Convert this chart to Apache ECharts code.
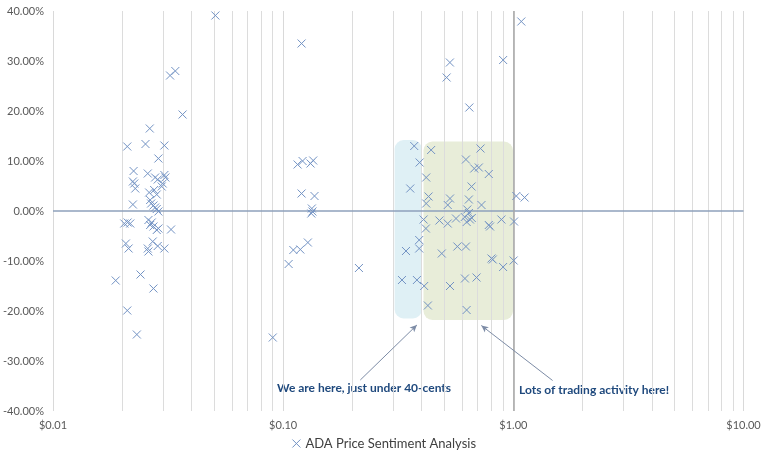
<!DOCTYPE html>
<html>
<head>
<meta charset="utf-8">
<script src="https://cdn.jsdelivr.net/npm/echarts@6/dist/echarts.min.js"></script>
<style>
html,body{margin:0;padding:0;background:#fff;}
#chart{width:768px;height:463px;}
</style>
</head>
<body>
<div id="chart"></div>
<script>
// ---- Data: [price in USD, sentiment in %] ----
const lowCluster = [
  [0.05076,39.1],[0.03225,27.1],[0.03399,28.0],[0.03655,19.3],[0.02632,16.5],
  [0.02102,12.9],[0.02522,13.4],[0.03047,13.1],[0.02870,10.5],[0.02239,8.0],
  [0.02580,7.5],[0.02777,6.7],[0.02850,6.3],[0.03047,7.2],[0.03077,6.7],
  [0.02223,5.9],[0.02254,5.5],[0.02277,4.5],[0.02996,5.5],[0.02966,4.9],
  [0.02616,3.7],[0.02750,4.2],[0.02822,3.3],[0.02223,1.3],[0.02642,2.2],
  [0.02669,1.5],[0.02731,1.1],[0.02777,0.7],[0.02870,-0.1],[0.02822,0.4],
  [0.02109,-2.3],[0.02166,-2.5],[0.02040,-2.5],[0.02598,-1.8],[0.02685,-2.3],
  [0.02642,-2.8],[0.02731,-3.1],[0.02822,-3.8],[0.02870,-3.5],[0.03257,-3.7],
  [0.02073,-6.5],[0.02130,-7.5],[0.02580,-7.5],[0.02598,-8.1],[0.02712,-6.1],
  [0.02850,-7.0],[0.03047,-7.5],[0.02400,-12.7],[0.01872,-13.9],[0.02731,-15.5],
  [0.02102,-19.9],[0.02313,-24.7]
];
const midCluster = [
  [0.1202,33.5],[0.1155,9.3],[0.1214,10.0],[0.1315,9.5],[0.1350,10.1],
  [0.1202,3.5],[0.1368,3.0],[0.1332,0.5],[0.1340,-0.1],[0.1325,-0.5],
  [0.1280,-6.3],[0.1107,-7.8],[0.1187,-7.7],[0.1056,-10.6],[0.2134,-11.4],
  [0.0901,-25.3]
];
const highCluster = [
  [0.3282,-13.8],[0.3416,-8.0],[0.3565,4.5],[0.3710,13.0],[0.3811,-13.8],
  [0.3899,-5.8],[0.3899,-7.5],[0.3915,9.7],[0.4074,-1.7],[0.4098,-15.0],
  [0.4169,-3.5],[0.4182,6.7],[0.4182,1.5],[0.4253,-18.9],[0.4282,2.9],
  [0.4394,12.2],[0.4775,-1.9],[0.4887,-8.5],[0.5187,1.2],[0.5187,-2.5],
  [0.5307,2.5],[0.5307,-15.0],[0.5635,-1.5],[0.5713,-7.1],[0.6161,-13.5],
  [0.6223,-7.1],[0.6223,10.3],[0.6266,-19.8],[0.6150,-1.2],[0.6270,-2.2],
  [0.6480,-1.7],[0.6600,-1.4],[0.6310,0.3],[0.6410,2.3],[0.6410,-0.4],
  [0.6585,4.9],[0.6763,8.5],[0.6920,-13.3],[0.7080,8.7],[0.7202,12.5],
  [0.7273,1.2],[0.7822,7.4],[0.7822,-2.8],[0.7920,-3.1],[0.8035,-9.5],
  [0.8140,-9.7],[0.8876,-1.7],[0.9027,-11.2],[1.003,-9.9],[1.007,-2.1],
  [1.0303,3.0],[1.119,2.7],[1.083,37.9],[0.530,29.7],[0.513,26.7],
  [0.903,30.2],[0.644,20.7]
];
const seriesName = 'ADA Price Sentiment Analysis';
// highlighted zones: [xFrom, xTo, yFrom, yTo]
const zones = [
  [0.305, 0.4005, -21.5, 14.2],
  [0.407, 0.997, -21.8, 13.9]
];
// annotation arrows: [[tailX, tailY], [headX, headY]]
const arrows = [
  [[0.2163, -33.8], [0.381, -22.8]],
  [[1.481, -33.9], [0.726, -22.9]]
];
const annotations = ['We are here, just under 40-cents', 'Lots of trading activity here!'];
const xMin = 0.01, xMax = 10;
const yMin = -40, yMax = 40, yStep = 10;
// minor log gridlines (2..9 within each decade)
const decades = [0.01, 0.1, 1];
const minorMultipliers = [2,3,4,5,6,7,8,9];

// ---- Build ----
const points = lowCluster.concat(midCluster, highCluster);
const minorGrid = [];
decades.forEach(d => minorMultipliers.forEach(m => minorGrid.push(+(m * d).toPrecision(3))));
const zoneFills = ['rgba(183,221,232,0.45)', 'rgba(214,222,186,0.55)'];

const chart = echarts.init(document.getElementById('chart'), null, {renderer: 'canvas'});
const fontFam = 'Lato, "Open Sans", sans-serif';
const xMark = 'path://M0,0L10,10M10,0L0,10';
const markerColor = '#7393c4';

chart.setOption({
  animation: false,
  backgroundColor: '#fff',
  grid: {left: 49, right: 24.5, top: 11, bottom: 52, containLabel: false},
  xAxis: {
    type: 'log', logBase: 10, min: xMin, max: xMax,
    axisLine: {show: false}, axisTick: {show: false},
    axisLabel: {color: '#595959', fontSize: 11, fontFamily: fontFam, margin: 9,
      formatter: v => '$' + Number(v).toFixed(2)},
    splitLine: {show: true, lineStyle: {color: '#d9d9d9', width: 1}}
  },
  yAxis: {
    type: 'value', min: yMin, max: yMax, interval: yStep,
    axisLine: {show: false}, axisTick: {show: false},
    axisLabel: {color: '#595959', fontSize: 11, fontFamily: fontFam, margin: 9,
      formatter: v => v.toFixed(2) + '%'},
    splitLine: {show: false}
  },
  legend: {
    bottom: 8, left: 'center',
    data: [{name: seriesName, icon: xMark,
      itemStyle: {color: 'rgba(0,0,0,0)', borderColor: markerColor, borderWidth: 1}}],
    itemWidth: 8, itemHeight: 8, itemGap: 5,
    textStyle: {color: '#404040', fontSize: 13, fontFamily: fontFam}
  },
  series: [
    {
      type: 'custom', name: 'zones', silent: true, z: 1,
      encode: {x: [0, 1], y: [2, 3]},
      data: zones,
      renderItem: function (params, api) {
        const p0 = api.coord([api.value(0), api.value(3)]);
        const p1 = api.coord([api.value(1), api.value(2)]);
        return {type: 'rect',
          shape: {x: p0[0], y: p0[1], width: p1[0] - p0[0], height: p1[1] - p0[1], r: 9},
          style: {fill: zoneFills[params.dataIndex]}};
      },
      markLine: {
        silent: true, symbol: 'none', animation: false,
        label: {show: false},
        lineStyle: {color: '#dcdcdc', width: 1, type: 'solid'},
        data: minorGrid.map(v => ({xAxis: v}))
      }
    },
    {
      type: 'scatter', name: seriesName, z: 5,
      symbol: xMark, symbolSize: 8,
      itemStyle: {color: 'rgba(0,0,0,0)', borderColor: markerColor, borderWidth: 1, opacity: 1},
      data: points,
      markLine: {
        silent: true, animation: false, label: {show: false},
        symbol: ['none', 'arrow'], symbolSize: [6, 8],
        lineStyle: {type: 'solid'},
        data: [
          [{xAxis: xMin, yAxis: 0, symbol: 'none', lineStyle: {color: '#8ea1bb', width: 1.5, type: 'solid'}},
           {xAxis: xMax, yAxis: 0, symbol: 'none'}],
          [{xAxis: 1, yAxis: yMin, symbol: 'none', lineStyle: {color: '#a6a6a6', width: 1.5, type: 'solid'}},
           {xAxis: 1, yAxis: yMax, symbol: 'none'}]
        ].concat(arrows.map(a => [
          {coord: a[0], symbol: 'none', lineStyle: {color: '#7d8ca6', width: 1, type: 'solid'}},
          {coord: a[1], symbol: 'arrow', symbolSize: [5, 7]}
        ]))
      }
    }
  ],
  graphic: [
    {type: 'text', left: 277, top: 382,
      style: {text: annotations[0], fill: '#1f497d', font: 'bold 12px ' + fontFam}},
    {type: 'text', left: 519, top: 384,
      style: {text: annotations[1], fill: '#1f497d', font: 'bold 12px ' + fontFam}}
  ]
});
</script>
</body>
</html>
